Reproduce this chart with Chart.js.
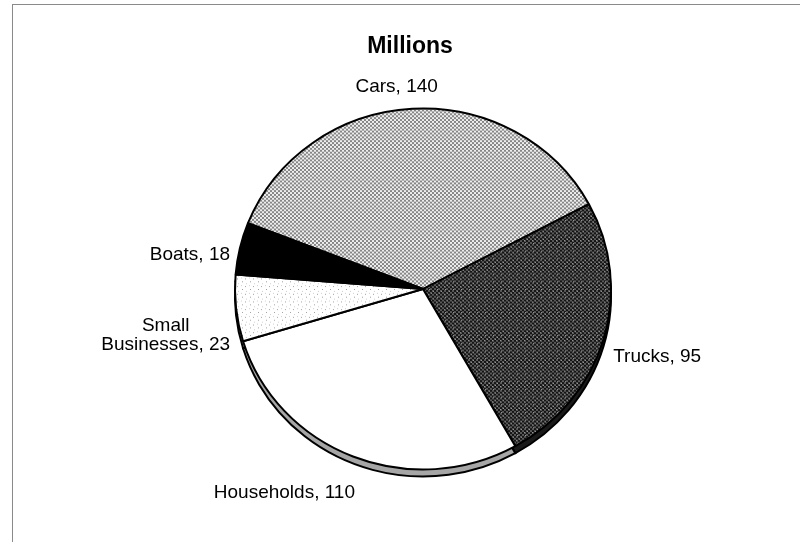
<!DOCTYPE html>
<html>
<head>
<meta charset="utf-8">
<title>Millions</title>
<script src="https://cdn.jsdelivr.net/npm/chart.js@4.4.1/dist/chart.umd.min.js"></script>
<style>
  html, body { margin: 0; padding: 0; background: #fff; }
  #wrap { width: 800px; height: 542px; position: relative; }
</style>
</head>
<body>
<div id="wrap"><canvas id="pie-chart" width="800" height="542"></canvas></div>
<script>
// values, in millions
const categories = ['Cars', 'Trucks', 'Households', 'Small Businesses', 'Boats'];
const values = [140, 95, 110, 23, 18];
const labelLines = [['Cars, 140'], ['Trucks, 95'], ['Households, 110'], ['Small', 'Businesses, 23'], ['Boats, 18']];

// small bitmap tiles used as fills (rows of chars -> colours)
function makePattern(rows, palette) {
  const tile = document.createElement('canvas');
  tile.width = rows[0].length;
  tile.height = rows.length;
  const tctx = tile.getContext('2d');
  rows.forEach(function(row, y) {
    for (let x = 0; x < row.length; x++) {
      tctx.fillStyle = palette[row[x]];
      tctx.fillRect(x, y, 1, 1);
    }
  });
  return tctx.createPattern(tile, 'repeat');
}

const carsFill = makePattern(
  ['aabb', 'aabb', 'bbaa', 'bbaa'],
  { a: '#868686', b: '#eeeeee' }
);
const trucksFill = makePattern(
  ['aabbaabb', 'aabbacbb', 'bbaabbaa', 'bcaabbaa', 'aabbaabb', 'aabbaabc', 'bbaacbaa', 'bbaabbaa'],
  { a: '#141414', b: '#5a5a5a', c: '#9a9a9a' }
);
const smallBizFill = makePattern(
  ['wwwwwwww', 'wwgwwwww', 'wwwwwwww', 'wwwwwwlw', 'wwwwwwww', 'wlwwwwww', 'wwwwwgww', 'wwwwwwww'],
  { w: '#ffffff', g: '#a0a0a0', l: '#d0d0d0' }
);

const sliceFills = [carsFill, trucksFill, '#ffffff', smallBizFill, '#000000'];
const sideFills = ['#9a9a9a', '#1a1a1a', '#a6a6a6', '#a6a6a6', '#000000'];

const FONT = '"Liberation Sans", Arial, sans-serif';
const Y_SCALE = 0.96;   // slight tilt of the pie
const DEPTH = 7;        // thickness of the rim

// squashes the pie a little and draws the rim underneath it
const tiltPlugin = {
  id: 'tilt',
  beforeDatasetsDraw: function(chart) {
    const ctx = chart.ctx;
    const arcs = chart.getDatasetMeta(0).data;
    const cx = arcs[0].x, cy = arcs[0].y;
    ctx.save();
    ctx.translate(cx, cy);
    ctx.scale(1, Y_SCALE);
    ctx.translate(-cx, -cy);

    const off = DEPTH / Y_SCALE;
    arcs.forEach(function(arc, i) {
      ctx.beginPath();
      ctx.moveTo(arc.x, arc.y + off);
      ctx.arc(arc.x, arc.y + off, arc.outerRadius, arc.startAngle, arc.endAngle);
      ctx.closePath();
      ctx.fillStyle = sideFills[i];
      ctx.fill();
      ctx.lineWidth = 2;
      ctx.strokeStyle = '#000';
      ctx.stroke();
    });
  },
  afterDatasetsDraw: function(chart) {
    chart.ctx.restore();
  }
};

// frame, title and "name, value" labels beside each slice
const nudges = [[-15, -14], [2, 15], [5, 29], [2, 26], [-2, 8]];
const labelPlugin = {
  id: 'sliceLabels',
  afterDraw: function(chart) {
    const ctx = chart.ctx;
    ctx.save();

    ctx.strokeStyle = '#8a8a8a';
    ctx.lineWidth = 1;
    ctx.strokeRect(12.5, 4.5, 820, 560);

    ctx.fillStyle = '#000';
    ctx.font = 'bold 23px ' + FONT;
    ctx.textAlign = 'center';
    ctx.textBaseline = 'middle';
    ctx.fillText('Millions', 410, 47);

    ctx.font = '19px ' + FONT;
    ctx.textAlign = 'center';
    const lh = 19;
    const arcs = chart.getDatasetMeta(0).data;
    arcs.forEach(function(arc, i) {
      const mid = (arc.startAngle + arc.endAngle) / 2;
      const r = arc.outerRadius + 8;
      const cosA = Math.cos(mid), sinA = Math.sin(mid);
      const x = arc.x + cosA * r + nudges[i][0];
      const y = arc.y + sinA * r * Y_SCALE + nudges[i][1];
      const lines = labelLines[i];
      const w = Math.max.apply(null, lines.map(function(l) { return ctx.measureText(l).width; }));
      // the text block hangs off the anchor on the side facing away from the pie,
      // lines are centred inside the block
      let bx = x;
      if (cosA > 0.3) bx = x + w / 2;
      else if (cosA < -0.3) bx = x - w / 2;
      lines.forEach(function(line, k) {
        ctx.fillText(line, bx, y + (k - (lines.length - 1) / 2) * lh);
      });
    });
    ctx.restore();
  }
};

new Chart(document.getElementById('pie-chart'), {
  type: 'pie',
  data: {
    labels: categories,
    datasets: [{
      data: values,
      backgroundColor: sliceFills,
      borderColor: '#000',
      borderWidth: 2
    }]
  },
  options: {
    responsive: false,
    animation: false,
    rotation: -68.6,
    layout: { padding: { left: 234, right: 188, top: 100, bottom: 64 } },
    plugins: {
      legend: { display: false },
      tooltip: { enabled: false },
      title: { display: false }
    }
  },
  plugins: [tiltPlugin, labelPlugin]
});
</script>
</body>
</html>
